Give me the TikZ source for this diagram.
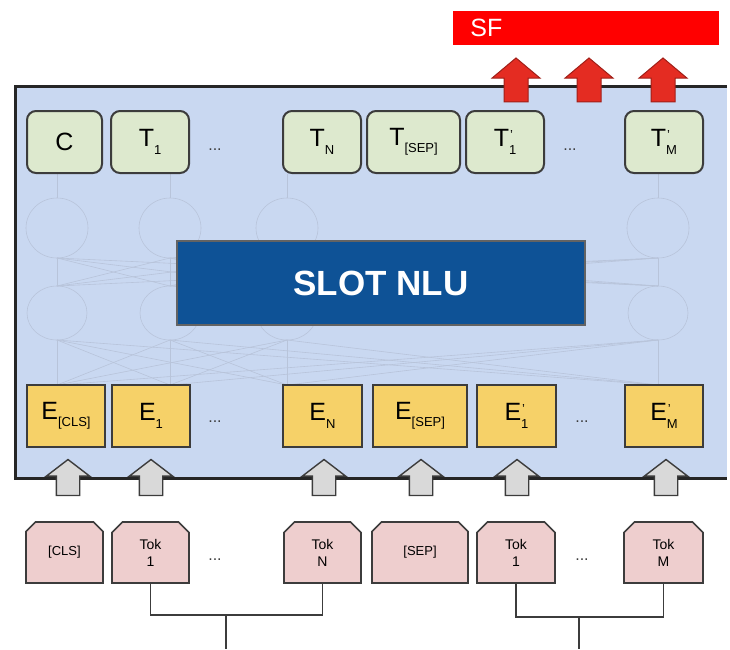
\documentclass[tikz,border=0pt]{standalone}
\usepackage{fontspec}
\setmainfont{Liberation Sans}
\usetikzlibrary{shapes.arrows,shapes.misc}

\definecolor{panelblue}{RGB}{201,216,241}
\definecolor{netline}{RGB}{184,196,218}
\definecolor{nlublue}{RGB}{14,82,150}
\definecolor{tgreen}{RGB}{221,233,206}
\definecolor{eyellow}{RGB}{246,209,104}
\definecolor{tokpink}{RGB}{238,206,206}
\definecolor{boxline}{RGB}{60,60,60}
\definecolor{arrowgray}{RGB}{217,217,217}
\definecolor{arrowred}{RGB}{228,44,34}

\newcommand{\sub}[2]{#1\raisebox{-0.55ex}{\fontsize{13}{13}\selectfont #2}}
\newcommand{\subp}[2]{#1\raisebox{-0.55ex}{\fontsize{13}{13}\selectfont\rlap{\kern1pt\raisebox{2.1ex}{'}}#2}}

\begin{document}
\begin{tikzpicture}[x=1pt,y=-1pt,
    tbox/.style={draw=boxline, line width=2pt, fill=tgreen, rounded corners=9pt,
      minimum width=78pt, minimum height=62pt, inner sep=0pt, font=\fontsize{25}{25}\selectfont},
    ebox/.style={draw=boxline, line width=2pt, fill=eyellow,
      minimum width=78pt, minimum height=62pt, inner sep=0pt, font=\fontsize{25}{25}\selectfont},
    tokbox/.style={chamfered rectangle, chamfered rectangle corners={north west,north east},
      chamfered rectangle xsep=7pt, draw=boxline, line width=1.6pt, fill=tokpink,
      minimum width=77pt, minimum height=61pt, inner sep=0pt, align=center,
      font=\fontsize{14}{17}\selectfont},
    dots/.style={font=\fontsize{16}{16}\selectfont, text=boxline},
    inarrow/.style={single arrow, rotate=90, draw=boxline, line width=1.4pt, fill=arrowgray,
      inner xsep=0pt, inner ysep=11pt, single arrow head extend=10pt,
      single arrow tip angle=105, minimum height=36pt},
    outarrow/.style={single arrow, rotate=90, draw=arrowred!70!black, line width=1pt, fill=arrowred,
      inner xsep=0pt, inner ysep=11.5pt, single arrow head extend=12pt,
      single arrow tip angle=100, minimum height=44pt},
    net/.style={draw=netline, line width=0.6pt}]
  \useasboundingbox (0,0) rectangle (730,649);

  \node (sf) at (586,28) [fill=red, minimum width=266pt, minimum height=34pt, inner sep=0pt,
    label={[text=white, font=\fontsize{25}{25}\selectfont, anchor=west, xshift=14pt]west:SF}] {};

  \fill[panelblue] (15,86) rectangle (727,478);

  \foreach \a in {57,170,287,658} {
    \draw[net] (\a,228) ellipse (31 and 30);
    \draw[net] (\a,313) ellipse (30 and 27);
    \draw[net] (\a,174) -- (\a,198);
    \foreach \b in {57,170,287,658} {
      \draw[net] (\a,258) -- (\b,286);
      \draw[net] (\a,340) -- (\b,385);
    }
  }

  \node (nlu) at (381,283) [fill=nlublue, draw=boxline!80, line width=1.5pt, minimum width=408pt,
    minimum height=84pt, text=white, font=\bfseries\fontsize{35}{35}\selectfont] {SLOT NLU};

  \node (c) at (64.5,142) [tbox, minimum width=75pt] {C};
  \node (t1) at (150,142) [tbox] {\sub{T}{1}};
  \node at (215,150) [dots] {...};
  \node (tn) at (322,142) [tbox] {\sub{T}{N}};
  \node (tsep) at (413.5,142) [tbox, minimum width=93pt] {\sub{T}{[SEP]}};
  \node (t1p) at (505,142) [tbox] {\subp{T}{1}};
  \node at (570,150) [dots] {...};
  \node (tmp) at (664,142) [tbox] {\subp{T}{M}};

  \node (ecls) at (66,416) [ebox] {\sub{E}{[CLS]}};
  \node (e1) at (151,416) [ebox] {\sub{E}{1}};
  \node at (215,422) [dots] {...};
  \node (en) at (322.5,416) [ebox, minimum width=79pt] {\sub{E}{N}};
  \node (esep) at (420,416) [ebox, minimum width=94pt] {\sub{E}{[SEP]}};
  \node (e1p) at (516.5,416) [ebox, minimum width=79pt] {\subp{E}{1}};
  \node at (582,422) [dots] {...};
  \node (emp) at (664,416) [ebox] {\subp{E}{M}};

  \draw[line width=3pt, draw=black!85] (727,86) -- (15,86) -- (15,478) -- (727,478);

  \foreach \x [count=\i] in {68,151,324,421,517,666}
    \node (in\i) at (\x,482) [inarrow] {};
  \foreach \x [count=\i] in {516,589,663}
    \node (out\i) at (\x,85) [outarrow] {};

  \node (cls) at (64.5,552.5) [tokbox, font=\fontsize{13}{13}\selectfont] {[CLS]};
  \node (tok1) at (150.5,552.5) [tokbox] {Tok\\1};
  \node at (215,560) [dots] {...};
  \node (tokn) at (322.5,552.5) [tokbox] {Tok\\N};
  \node (sep) at (420,552.5) [tokbox, minimum width=96pt, font=\fontsize{13}{13}\selectfont] {[SEP]};
  \node (tok1p) at (516,552.5) [tokbox, minimum width=78pt] {Tok\\1};
  \node at (582,560) [dots] {...};
  \node (tokm) at (663.5,552.5) [tokbox, minimum width=79pt] {Tok\\M};

  \coordinate (jl) at (226,615);
  \coordinate (jr) at (579,617);
  \coordinate (el) at (226,649);
  \coordinate (er) at (579,649);
  \draw[boxline, line width=1.5pt] (tok1.south) |- (jl) -| (tokn.south);
  \draw[boxline, line width=1.5pt] (jl) -- (el);
  \draw[boxline, line width=1.5pt] (tok1p.south) |- (jr) -| (tokm.south);
  \draw[boxline, line width=1.5pt] (jr) -- (er);
\end{tikzpicture}
\end{document}
